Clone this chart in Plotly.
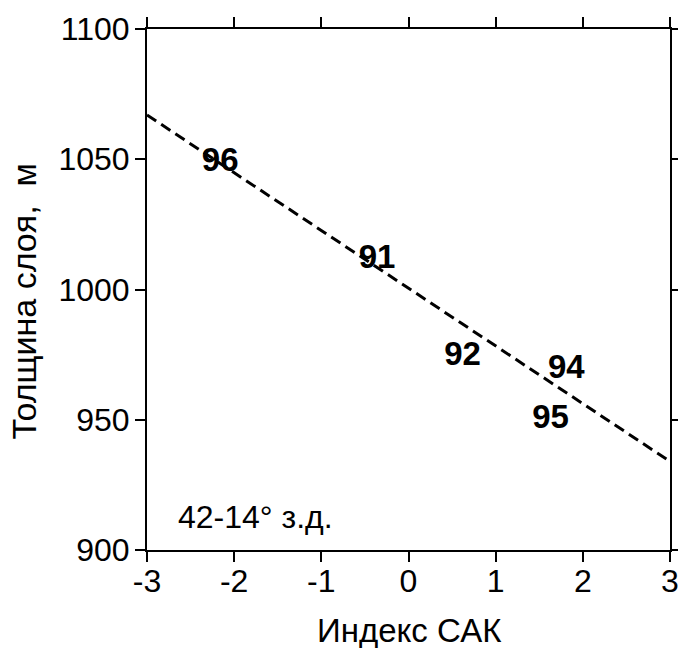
import plotly.graph_objects as go

# Data
line_x = [-3, 3]
line_y = [1067, 934]
years = ["96", "91", "92", "94", "95"]
yr_x = [-2.16, -0.36, 0.62, 1.81, 1.63]
yr_y = [1048.6, 1011.3, 974.2, 969.1, 949.9]
x_ticks = [-3, -2, -1, 0, 1, 2, 3]
y_ticks = [900, 950, 1000, 1050, 1100]
region_label = "42-14° з.д."
x_title = "Индекс САК"
y_title = "Толщина слоя,  м"

FONT = "Liberation Sans, Arial, sans-serif"

fig = go.Figure()
fig.add_trace(go.Scatter(
    x=line_x, y=line_y, mode="lines",
    line=dict(color="black", width=3, dash="11px,6px"),
    showlegend=False, hoverinfo="skip",
))
fig.add_trace(go.Scatter(
    x=yr_x, y=yr_y, mode="text", text=years,
    textfont=dict(family=FONT, size=33, color="black", weight="bold"),
    textposition="middle center",
    showlegend=False, hoverinfo="skip",
))

fig.add_annotation(
    x=-2.67, y=912.7, text=region_label, showarrow=False,
    xanchor="left", yanchor="middle",
    font=dict(family=FONT, size=32, color="black"),
)

# axis titles as annotations (paper coordinates)
fig.add_annotation(
    xref="paper", yref="paper", x=0.502, y=-0.155, text=x_title, showarrow=False,
    xanchor="center", yanchor="middle",
    font=dict(family=FONT, size=33, color="black"),
)
fig.add_annotation(
    xref="paper", yref="paper", x=-0.235, y=0.477, text=y_title, showarrow=False,
    xanchor="center", yanchor="middle", textangle=-90,
    font=dict(family=FONT, size=34, color="black"),
)

axis_common = dict(
    showline=True, linecolor="black", linewidth=2,
    mirror="ticks", ticks="outside", ticklen=10, tickwidth=2, tickcolor="black",
    showgrid=False, zeroline=False, ticklabeloverflow="allow",
    tickfont=dict(family=FONT, size=32, color="black"),
)

fig.update_xaxes(
    range=[-3, 3], tickvals=x_ticks, ticktext=[str(v) for v in x_ticks],
    ticklabelstandoff=-8,
    **axis_common,
)
fig.update_yaxes(
    range=[900, 1100], tickvals=y_ticks, ticktext=[str(v) for v in y_ticks],
    ticklabelstandoff=-1,
    **axis_common,
)

fig.update_layout(
    width=678, height=648,
    margin=dict(l=147, r=8, t=29, b=98, autoexpand=False),
    plot_bgcolor="white", paper_bgcolor="white",
    font=dict(family=FONT, color="black"),
)

fig.write_html("out.html")
